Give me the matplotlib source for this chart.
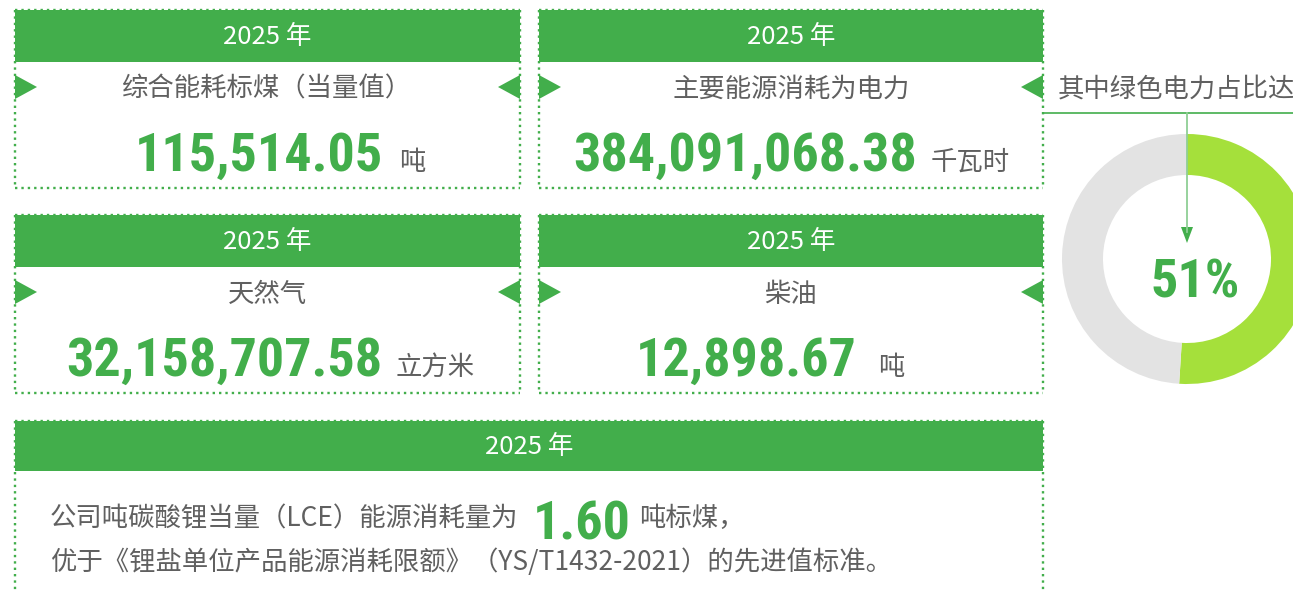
import os
import matplotlib
matplotlib.use("Agg")
import matplotlib.pyplot as plt
from matplotlib import font_manager
from matplotlib.patches import Rectangle, Polygon

# ---- data ----
year_label = "2025 年"
metric_labels = ["综合能耗标煤（当量值）", "主要能源消耗为电力", "天然气", "柴油"]
metric_values = [115514.05, 384091068.38, 32158707.58, 12898.67]
metric_units = ["吨", "千瓦时", "立方米", "吨"]
green_power_label = "其中绿色电力占比达"
green_power_share = [51, 49]
lce_value = 1.60
lce_prefix = "公司吨碳酸锂当量（LCE）能源消耗量为"
lce_suffix = "吨标煤，"
lce_line2 = "优于《锂盐单位产品能源消耗限额》（YS/T1432-2021）的先进值标准。"

GREEN = "#42ae4b"
LIGHT_GREEN = "#a5e03b"
RING_GRAY = "#e3e3e3"
TEXT_GRAY = "#606060"

plt.rcParams["font.family"] = ["Noto Sans CJK SC", "DejaVu Sans"]


def pick_number_font():
    """Look for a condensed bold face for the big figures."""
    wanted = ["LiberationSansNarrow-Bold", "RobotoCondensed-Bold", "OpenSans-CondBold",
              "OpenSansCondensed-Bold", "DejaVuSansCondensed-Bold"]
    files = font_manager.findSystemFonts() + [f.fname for f in font_manager.fontManager.ttflist]
    for w in wanted:
        for f in files:
            if os.path.basename(f).startswith(w):
                return font_manager.FontProperties(fname=f)
    return font_manager.FontProperties(family="DejaVu Sans", weight="bold")


num_font = pick_number_font()
NUM_SIZE = 39

fig = plt.figure(figsize=(12.93, 5.90), dpi=100)

# donut first so the overlay axes draws on top of it
cx, cy, r_out, r_in = 1187, 259, 125, 84
dax = fig.add_axes([(cx - r_out) / 1293, (590 - cy - r_out) / 590, 2 * r_out / 1293, 2 * r_out / 590])
dax.pie(green_power_share, colors=[LIGHT_GREEN, RING_GRAY], startangle=90, counterclock=False,
        radius=1, wedgeprops=dict(width=(r_out - r_in) / r_out, linewidth=0))
dax.set_xlim(-1, 1)
dax.set_ylim(-1, 1)
dax.set_aspect("auto")
dax.axis("off")

ax = fig.add_axes([0, 0, 1, 1])
ax.set_xlim(0, 1293)
ax.set_ylim(590, 0)
ax.axis("off")

dots = dict(color=GREEN, lw=1.7, linestyle=(0, (1, 1.7)))


def dotted_box(x0, x1, y0, y1, bottom=True):
    ax.plot([x0, x0], [y0, y1], **dots)
    ax.plot([x1, x1], [y0, y1], **dots)
    ax.plot([x0, x1], [y0, y0], **dots)
    if bottom:
        ax.plot([x0, x1], [y1, y1], **dots)


def header(x0, x1, y0, y1):
    ax.add_patch(Rectangle((x0, y0), x1 - x0, y1 - y0, facecolor=GREEN, edgecolor="none", zorder=2))
    ax.text((x0 + x1) / 2, (y0 + y1) / 2 + 1, year_label, color="white", fontsize=18.5,
            ha="center", va="center", zorder=3)


def side_arrows(x0, x1, yc):
    ax.add_patch(Polygon([(x0, yc - 12), (x0, yc + 12), (x0 + 22, yc)], closed=True,
                         facecolor=GREEN, edgecolor="none", zorder=3))
    ax.add_patch(Polygon([(x1, yc - 12), (x1, yc + 12), (x1 - 22, yc)], closed=True,
                         facecolor=GREEN, edgecolor="none", zorder=3))


# four metric boxes: (x0, x1, y0, y1), number right edge, unit left edge
boxes = [(15, 520, 10, 188), (539, 1043, 10, 188), (15, 520, 215, 393), (539, 1043, 215, 393)]
num_right = [383, 917, 382, 857]
unit_left = [399, 931, 396, 878]

for i, (x0, x1, y0, y1) in enumerate(boxes):
    dotted_box(x0, x1, y0, y1)
    header(x0, x1, y0, y0 + 52)
    side_arrows(x0, x1, y0 + 77)
    ax.text((x0 + x1) / 2, y0 + 79, metric_labels[i], color=TEXT_GRAY, fontsize=19,
            ha="center", va="center")
    ax.text(num_right[i], y0 + 161, f"{metric_values[i]:,.2f}", color=GREEN,
            fontproperties=num_font, fontsize=NUM_SIZE, ha="right", va="baseline")
    ax.text(unit_left[i], y0 + 160, metric_units[i], color=TEXT_GRAY, fontsize=19,
            ha="left", va="baseline")

# bottom wide box
dotted_box(15, 1043, 421, 595, bottom=False)
header(15, 1043, 421, 471)

fig.canvas.draw()
renderer = fig.canvas.get_renderer()
inv = ax.transData.inverted()

t1 = ax.text(50, 526, lce_prefix, color=TEXT_GRAY, fontsize=19, ha="left", va="baseline")
x_end = inv.transform(t1.get_window_extent(renderer).get_points())[1, 0]
t2 = ax.text(x_end + 14, 539, f"{lce_value:.2f}", color=GREEN, fontproperties=num_font,
             fontsize=NUM_SIZE, ha="left", va="baseline")
x_end = inv.transform(t2.get_window_extent(renderer).get_points())[1, 0]
ax.text(x_end + 9, 526, lce_suffix, color=TEXT_GRAY, fontsize=19, ha="left", va="baseline")
ax.text(50, 570, lce_line2, color=TEXT_GRAY, fontsize=19, ha="left", va="baseline")

# donut annotation
ax.text(1058, 89, green_power_label, color=TEXT_GRAY, fontsize=19, ha="left", va="center")
ax.plot([1043, 1293], [113, 113], color=GREEN, lw=1.2)
ax.plot([cx, cx], [113, 232], color="#8fcf95", lw=1.3)
ax.add_patch(Polygon([(cx - 6, 227), (cx + 6, 227), (cx, 243)], closed=True,
                     facecolor=GREEN, edgecolor="none"))
ax.text(1195, 297, f"{green_power_share[0]}%", color=GREEN, fontproperties=num_font,
        fontsize=NUM_SIZE, ha="center", va="baseline")

fig.savefig("out.png", dpi=100, facecolor="white")
